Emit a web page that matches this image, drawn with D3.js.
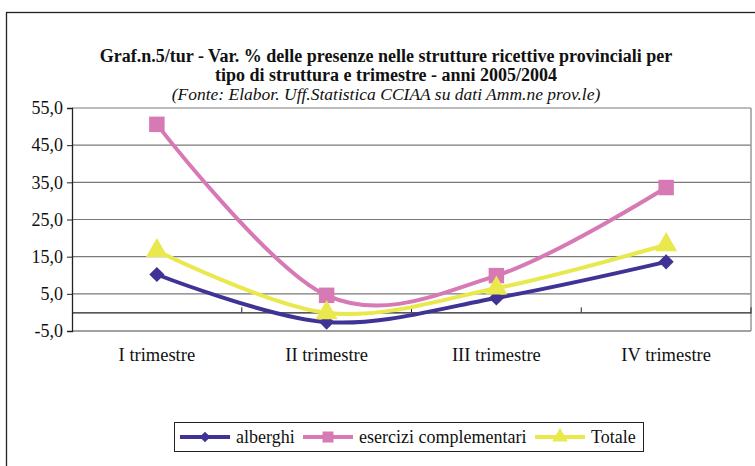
<!DOCTYPE html>
<html>
<head>
<meta charset="utf-8">
<script src="https://cdn.jsdelivr.net/npm/d3@7"></script>
<style>
  body { margin: 0; background: #fff; }
  text { font-family: "Liberation Serif", "Times New Roman", serif; fill: #111; }
</style>
</head>
<body>
<svg id="chart" width="755" height="466"></svg>
<script>
// data
const categories = ["I trimestre", "II trimestre", "III trimestre", "IV trimestre"];
const alberghi = [10.2, -2.6, 3.9, 13.6];
const esercizi = [50.6, 4.6, 9.9, 33.6];
const totale = [16.6, -0.1, 6.5, 18.2];
const yTicks = [-5, 5, 15, 25, 35, 45, 55];

const series = [
  { name: "alberghi", values: alberghi, color: "#3f3396", symbol: d3.symbolSquare, size: 115, rot: 45 },
  { name: "esercizi complementari", values: esercizi, color: "#d679b5", symbol: d3.symbolSquare, size: 240, rot: 0 },
  { name: "Totale", values: totale, color: "#e9e84c", symbol: d3.symbolTriangle, size: 210, rot: 0 }
];

const svg = d3.select("#chart");
const margin = { left: 72, right: 4, top: 108, bottom: 135 };
const width = 755 - margin.left - margin.right;
const height = 466 - margin.top - margin.bottom;

// outer frame
svg.append("rect")
  .attr("x", 6.5).attr("y", 12.5)
  .attr("width", 760).attr("height", 470)
  .attr("fill", "none").attr("stroke", "#222").attr("stroke-width", 1.3);

// titles
svg.append("text").attr("x", 386).attr("y", 62).attr("text-anchor", "middle")
  .attr("font-size", 18).attr("font-weight", "bold")
  .text("Graf.n.5/tur - Var. % delle presenze nelle strutture ricettive provinciali per");
svg.append("text").attr("x", 386).attr("y", 81).attr("text-anchor", "middle")
  .attr("font-size", 18).attr("font-weight", "bold")
  .text("tipo di struttura e trimestre - anni 2005/2004");
svg.append("text").attr("x", 386).attr("y", 100).attr("text-anchor", "middle")
  .attr("font-size", 17.5).attr("font-style", "italic")
  .text("(Fonte: Elabor. Uff.Statistica CCIAA su dati Amm.ne prov.le)");

const g = svg.append("g").attr("transform", `translate(${margin.left},${margin.top})`);

const x = d3.scaleBand().domain(categories).range([0, width]);
const y = d3.scaleLinear().domain([-5, 55]).range([height, 0]);

// gridlines
g.selectAll(".grid").data(yTicks).join("line")
  .attr("x1", 0).attr("x2", width)
  .attr("y1", d => y(d)).attr("y2", d => y(d))
  .attr("stroke", "#7a7a7a").attr("stroke-width", 1.2);

// plot frame right side
g.append("line").attr("x1", width).attr("x2", width).attr("y1", 0).attr("y2", height)
  .attr("stroke", "#999").attr("stroke-width", 1.5);
g.append("line").attr("x1", 0).attr("x2", width).attr("y1", height).attr("y2", height)
  .attr("stroke", "#999").attr("stroke-width", 1.5);

// y axis
const yAxis = g.append("g")
  .call(d3.axisLeft(y).tickValues(yTicks).tickSize(5)
    .tickFormat(d => d3.format(".1f")(d).replace(".", ",").replace("\u2212", "-")));
yAxis.select(".domain").attr("stroke", "#222").attr("stroke-width", 1.3);
yAxis.selectAll(".tick line").attr("stroke", "#222");
yAxis.selectAll(".tick text").attr("font-size", 18).attr("x", -9)
  .attr("fill", "#111");

// category axis at 0
const xAxis = g.append("g").attr("transform", `translate(0,${y(0)})`)
  .call(d3.axisBottom(x).tickSize(0).tickFormat(""));
xAxis.select(".domain").attr("stroke", "#222").attr("stroke-width", 1.2);
g.selectAll(".cat-tick").data(categories.slice(1).concat(["end"])).join("line")
  .attr("x1", (d, i) => (i + 1) * x.bandwidth()).attr("x2", (d, i) => (i + 1) * x.bandwidth())
  .attr("y1", y(0)).attr("y2", y(0) - 5)
  .attr("stroke", "#222");

g.selectAll(".cat-label").data(categories).join("text")
  .attr("x", d => x(d) + x.bandwidth() / 2)
  .attr("y", height + 30)
  .attr("text-anchor", "middle")
  .attr("font-size", 18.5)
  .text(d => d);

// lines
const line = d3.line()
  .x((d, i) => x(categories[i]) + x.bandwidth() / 2)
  .y(d => y(d))
  .curve(d3.curveCatmullRom.alpha(0));

series.forEach(s => {
  g.append("path").datum(s.values)
    .attr("d", line)
    .attr("fill", "none").attr("stroke", s.color).attr("stroke-width", 4);
});
series.forEach(s => {
  g.selectAll(null).data(s.values).join("path")
    .attr("transform", (d, i) => `translate(${x(categories[i]) + x.bandwidth() / 2},${y(d)}) rotate(${s.rot})`)
    .attr("d", d3.symbol().type(s.symbol).size(s.size))
    .attr("fill", s.color);
});

// legend
const legend = svg.append("g").attr("transform", "translate(174,422)");
legend.append("rect").attr("x", 0.5).attr("y", 0.5).attr("width", 469).attr("height", 29)
  .attr("fill", "#fff").attr("stroke", "#222").attr("stroke-width", 1);
const legendX = [6, 129, 361];
series.forEach((s, i) => {
  const lg = legend.append("g").attr("transform", `translate(${legendX[i]},15)`);
  lg.append("line").attr("x1", 0).attr("x2", 50).attr("y1", 0).attr("y2", 0)
    .attr("stroke", s.color).attr("stroke-width", 4);
  lg.append("path").attr("transform", `translate(25,0) rotate(${s.rot})`)
    .attr("d", d3.symbol().type(s.symbol).size(s.size * 0.5)).attr("fill", s.color);
  lg.append("text").attr("x", 56).attr("y", 6).attr("font-size", 18).text(s.name);
});
</script>
</body>
</html>
